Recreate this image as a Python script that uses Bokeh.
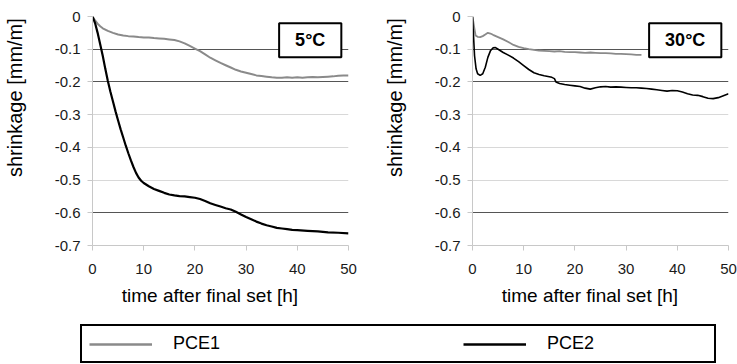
from bokeh.plotting import figure
from bokeh.layouts import column, row
from bokeh.models import (Range1d, FixedTicker, Grid, Label, Legend, LegendItem)
from bokeh.embed import file_html
from bokeh.resources import INLINE

# ---------------- data ----------------
# 5 °C panel
t5_pce1 = [0, 0.5, 1, 1.5, 2, 3, 4, 5, 6, 7, 8, 9, 10, 11, 12, 13, 14, 15, 16, 17,
           18, 19, 20, 21, 22, 23, 24, 25, 26, 27, 28, 29, 30, 31, 32, 33, 34, 35,
           36, 37, 38, 39, 40, 41, 42, 43, 44, 45, 46, 47, 48, 49, 50]
v5_pce1 = [0, -0.012, -0.022, -0.030, -0.036, -0.044, -0.050, -0.055, -0.058, -0.060,
           -0.061, -0.063, -0.064, -0.064, -0.066, -0.067, -0.068, -0.070, -0.072,
           -0.076, -0.082, -0.090, -0.098, -0.106, -0.116, -0.126, -0.134, -0.142,
           -0.149, -0.156, -0.163, -0.168, -0.172, -0.176, -0.180, -0.182, -0.184,
           -0.186, -0.187, -0.187, -0.186, -0.187, -0.186, -0.187, -0.186, -0.185,
           -0.186, -0.185, -0.184, -0.183, -0.181, -0.180, -0.180]

t5_pce2 = [0, 0.5, 1, 1.5, 2, 2.5, 3, 3.5, 4, 4.5, 5, 5.5, 6, 6.5, 7, 7.5, 8, 8.5, 9,
           9.5, 10, 11, 12, 13, 14, 15, 16, 17, 18, 19, 20, 21, 22, 23, 24, 25, 26,
           27, 28, 29, 30, 31, 32, 33, 34, 35, 36, 37, 38, 39, 40, 42, 44, 46, 48, 50]
v5_pce2 = [0, -0.020, -0.050, -0.085, -0.120, -0.160, -0.197, -0.230, -0.260, -0.290,
           -0.318, -0.345, -0.370, -0.395, -0.418, -0.440, -0.460, -0.478, -0.492,
           -0.502, -0.509, -0.519, -0.527, -0.533, -0.539, -0.544, -0.547, -0.549,
           -0.550, -0.552, -0.554, -0.558, -0.564, -0.571, -0.576, -0.581, -0.586,
           -0.590, -0.597, -0.605, -0.613, -0.620, -0.627, -0.633, -0.638, -0.642,
           -0.646, -0.648, -0.650, -0.652, -0.653, -0.655, -0.657, -0.660, -0.661,
           -0.663]

# 30 °C panel
t30_pce1 = [0, 0.3, 0.6, 1, 1.5, 2, 2.5, 3, 3.5, 4, 5, 6, 7, 8, 9, 10, 11, 12, 13, 14,
            15, 16, 17, 18, 19, 20, 21, 22, 23, 24, 25, 26, 27, 28, 29, 30, 31, 32, 33]
v30_pce1 = [0, -0.030, -0.058, -0.062, -0.063, -0.060, -0.055, -0.050, -0.052, -0.056,
            -0.063, -0.070, -0.078, -0.087, -0.093, -0.097, -0.100, -0.102, -0.104,
            -0.105, -0.106, -0.107, -0.106, -0.108, -0.109, -0.109, -0.110, -0.111,
            -0.110, -0.111, -0.112, -0.112, -0.113, -0.114, -0.114, -0.115, -0.116,
            -0.117, -0.117]

t30_pce2 = [0, 0.2, 0.4, 0.7, 1, 1.5, 2, 2.5, 3, 3.5, 4, 4.5, 5, 6, 7, 8, 9, 10, 11, 12,
            13, 14, 15, 15.5, 16, 16.3, 17, 18, 19, 20, 21, 22, 23, 24, 25, 26, 27, 28,
            29, 30, 31, 32, 33, 34, 35, 36, 37, 38, 39, 40, 41, 42, 43, 44, 45, 46, 47,
            48, 49, 50]
v30_pce2 = [0, -0.060, -0.120, -0.160, -0.175, -0.180, -0.175, -0.155, -0.125, -0.105,
            -0.096, -0.095, -0.100, -0.110, -0.118, -0.127, -0.138, -0.150, -0.162,
            -0.172, -0.177, -0.181, -0.184, -0.186, -0.190, -0.200, -0.205, -0.208,
            -0.210, -0.212, -0.214, -0.219, -0.222, -0.218, -0.215, -0.214, -0.216,
            -0.215, -0.216, -0.217, -0.218, -0.218, -0.219, -0.220, -0.222, -0.224,
            -0.226, -0.228, -0.226, -0.227, -0.231, -0.236, -0.240, -0.241, -0.245,
            -0.250, -0.251, -0.248, -0.242, -0.236]

series_names = ["PCE1", "PCE2"]
panel_titles = ["5°C", "30°C"]
y_ticks = [0, -0.1, -0.2, -0.3, -0.4, -0.5, -0.6, -0.7]
y_tick_labels = ["0", "-0.1", "-0.2", "-0.3", "-0.4", "-0.5", "-0.6", "-0.7"]
x_ticks = [0, 10, 20, 30, 40, 50]
dark_grid = [-0.1, -0.2, -0.6]
light_grid = [0, -0.3, -0.4, -0.5]
x_title = "time after final set [h]"
y_title = "shrinkage [mm/m]"

GRAY = "#8a8a8a"
BLACK = "#000000"
FONT = "Liberation Sans"
NBSP = "\u00a0"


def make_panel(width, right_border, data, title):
    p = figure(width=width, height=318, output_backend="svg", toolbar_location=None,
               x_range=Range1d(0, 50), y_range=Range1d(-0.7, 0),
               min_border_left=91, min_border_right=right_border,
               min_border_top=16, min_border_bottom=73)
    p.outline_line_color = None
    p.background_fill_color = "white"
    p.border_fill_color = "white"
    p.xgrid.visible = False
    p.ygrid.visible = False

    p.add_layout(Grid(dimension=1, ticker=FixedTicker(ticks=light_grid),
                      grid_line_color="#d8d8d8", grid_line_width=1))
    p.add_layout(Grid(dimension=1, ticker=FixedTicker(ticks=dark_grid),
                      grid_line_color="#555555", grid_line_width=1))

    for t, v, c, w in data:
        p.line(t, v, line_color=c, line_width=w)

    ya = p.yaxis[0]
    ya.ticker = FixedTicker(ticks=y_ticks)
    ya.major_label_overrides = {k: s for k, s in zip(y_ticks, y_tick_labels)}
    ya.axis_line_color = "#c8c8c8"
    ya.major_tick_line_color = "#c8c8c8"
    ya.major_tick_out = 5
    ya.major_tick_in = 0
    ya.minor_tick_line_color = None
    ya.major_label_standoff = 7
    ya.major_label_text_font = FONT
    ya.major_label_text_font_size = "15px"
    ya.major_label_text_color = "#1a1a1a"
    # leading no-break spaces shift the (centred) title upwards as in the reference
    ya.axis_label = NBSP * 12 + y_title
    ya.axis_label_text_font = FONT
    ya.axis_label_text_font_size = "20px"
    ya.axis_label_text_font_style = "normal"
    ya.axis_label_text_color = "#000000"
    ya.axis_label_standoff = 26

    xa = p.xaxis[0]
    xa.ticker = FixedTicker(ticks=x_ticks)
    xa.axis_line_color = "#c8c8c8"
    xa.major_tick_line_color = "#c8c8c8"
    xa.major_tick_out = 5
    xa.major_tick_in = 0
    xa.minor_tick_line_color = None
    xa.major_label_standoff = 13
    xa.major_label_text_font = FONT
    xa.major_label_text_font_size = "15px"
    xa.major_label_text_color = "#1a1a1a"
    xa.axis_label = x_title + NBSP * 4
    xa.axis_label_text_font = FONT
    xa.axis_label_text_font_size = "19px"
    xa.axis_label_text_font_style = "normal"
    xa.axis_label_text_color = "#000000"
    xa.axis_label_standoff = 8

    lab = Label(x=48.6, y=-0.021, text=title, text_align="right", text_baseline="top",
                text_font=FONT, text_font_size="18px", text_font_style="bold",
                text_color="#000000", background_fill_color="white",
                border_line_color="#000000", border_line_width=2, padding=(16, 7))
    p.add_layout(lab)
    return p


p1 = make_panel(380, 32, [(t5_pce1, v5_pce1, GRAY, 2), (t5_pce2, v5_pce2, BLACK, 2.2)],
                panel_titles[0])
p2 = make_panel(357, 9, [(t30_pce1, v30_pce1, GRAY, 1.8), (t30_pce2, v30_pce2, BLACK, 1.6)],
                panel_titles[1])

# legend strip (series drawn out of view, only their legend glyphs show)
pl = figure(width=737, height=46, output_backend="svg", toolbar_location=None,
            x_range=Range1d(0, 1), y_range=Range1d(1, 2),
            min_border_left=0, min_border_right=0, min_border_top=0, min_border_bottom=0)
pl.axis.visible = False
pl.grid.visible = False
pl.outline_line_color = None
r1 = pl.line(t5_pce1, v5_pce1, line_color=GRAY, line_width=2.5)
r2 = pl.line(t5_pce2, v5_pce2, line_color=BLACK, line_width=2.5)
leg = Legend(items=[LegendItem(label=series_names[0], renderers=[r1]),
                    LegendItem(label=series_names[1], renderers=[r2])],
             orientation="horizontal", location=(80, 1), margin=0, padding=7,
             spacing=130, glyph_width=63, glyph_height=20, label_standoff=21,
             label_width=160, label_text_font=FONT, label_text_font_size="18px",
             label_text_color="#000000", border_line_color="#000000",
             border_line_alpha=1.0, border_line_width=2, background_fill_color="white",
             background_fill_alpha=1.0)
pl.add_layout(leg)

layout = column(row(p1, p2), pl)
open("out.html", "w").write(file_html(layout, INLINE))
